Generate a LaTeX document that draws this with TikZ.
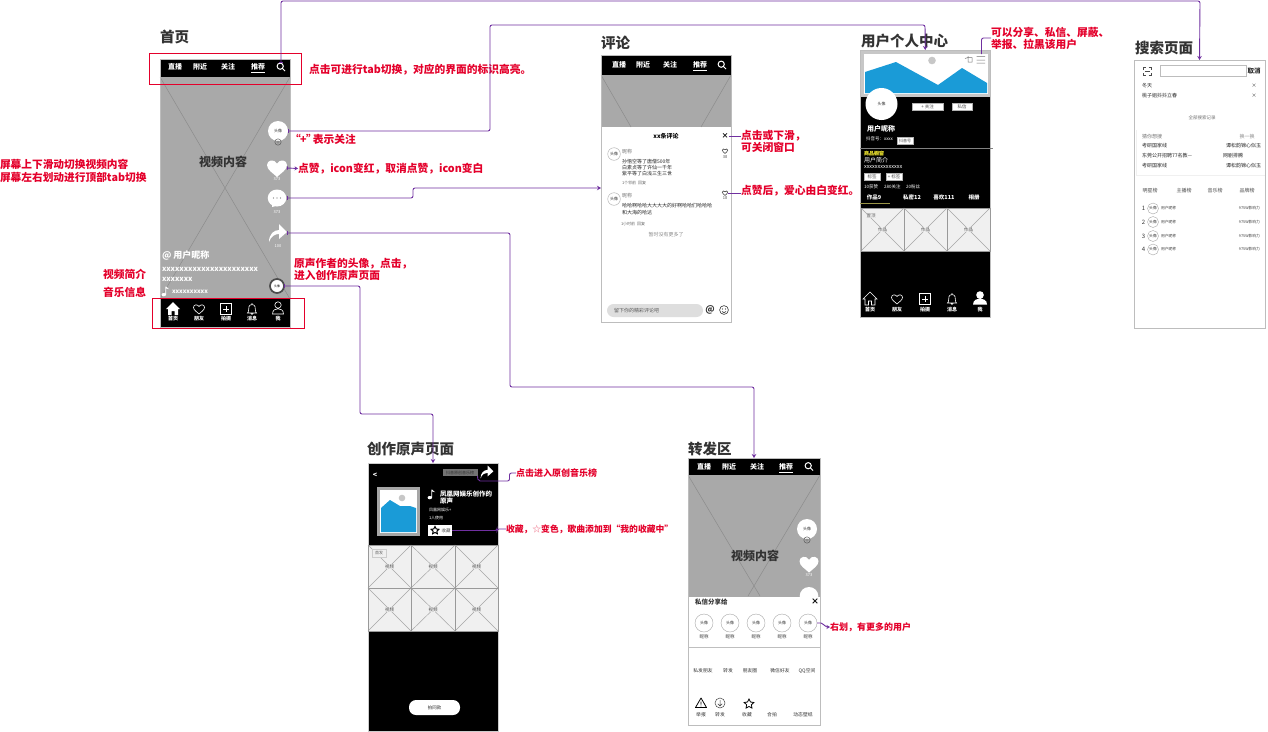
\documentclass[tikz,border=0pt]{standalone}
\usepackage{fontspec}
\setmainfont{Noto Sans CJK SC}
\usetikzlibrary{arrows.meta,shapes.geometric}
\definecolor{redlab}{HTML}{E4002B}
\definecolor{purp}{HTML}{7030A0}
\definecolor{vgray}{HTML}{A9A9A9}
\definecolor{cellg}{HTML}{F0F0F0}
\definecolor{title}{HTML}{333333}
\definecolor{blue1}{HTML}{1A9BD7}
\definecolor{frameg}{HTML}{BDBDBD}
\newcounter{nn}
\newcommand\lbl[4]{\stepcounter{nn}\node[#1] (t\thenn) at (#2,#3) {#4};}
\newcommand\wire[6]{% x1 y1 x2 y2 fill cross
  \fill[#5] (#1,#2) rectangle (#3,#4);
  \draw[#6,line width=.5pt] (#1,#2) -- (#3,#4) (#3,#2) -- (#1,#4);
}
\newcommand\cellbox[5]{% x y w h label
  \fill[cellg] (#1,#2) rectangle ++(#3,#4);
  \draw[black!35,line width=.5pt] (#1,#2) -- ++(#3,#4) (#1+#3,#2) -- ++(-#3,#4);
  \draw[black!40,line width=.7pt] (#1,#2) rectangle ++(#3,#4);
  \lbl{fs=4.5,text=black!70,fill=cellg}{#1+#3/2}{#2+#4/2}{#5}
}
\newcommand\heartpath{(0,.9) .. controls (-.4,.5) and (-1,.2) .. (-1,-.3) .. controls (-1,-.8) and (-.3,-.95) .. (0,-.45) .. controls (.3,-.95) and (1,-.8) .. (1,-.3) .. controls (1,.2) and (.4,.5) .. (0,.9) -- cycle}
\newcommand\heartfill[3]{\fill[white,shift={(#1,#2)},scale=#3] \heartpath;}
\newcommand\heartline[4]{\draw[#4,line width=.6pt,shift={(#1,#2)},scale=#3] \heartpath;}
\newcommand\shareicon[3]{\fill[white,shift={(#1,#2)},scale=#3] (-9,9) .. controls (-9,1) and (-4,-3) .. (1,-3) -- (1,-9) -- (9,-1) -- (1,6) -- (1,1) .. controls (-3,1) and (-7,3) .. (-9,9) -- cycle;}
\newcommand\searchicon[3]{\draw[#3,line width=1pt,shift={(#1,#2)}] (-.8,-.8) circle (3.1) (1.4,1.4) -- (4,4);}
\newcommand\homefill[2]{\fill[white,shift={(#1,#2)}] (0,-7) -- (7,0) -- (5,0) -- (5,6) -- (1.5,6) -- (1.5,2) -- (-1.5,2) -- (-1.5,6) -- (-5,6) -- (-5,0) -- (-7,0) -- cycle;}
\newcommand\homeout[2]{\draw[white,line width=.6pt,shift={(#1,#2)}] (0,-7) -- (7,0) -- (5,0) -- (5,6) -- (1.5,6) -- (1.5,2) -- (-1.5,2) -- (-1.5,6) -- (-5,6) -- (-5,0) -- (-7,0) -- cycle;}
\newcommand\plusbox[2]{\draw[white,line width=.6pt,shift={(#1,#2)}] (-5.5,-5.5) rectangle (5.5,5.5) (-3,0) -- (3,0) (0,-3) -- (0,3);}
\newcommand\bell[2]{\draw[white,line width=.6pt,shift={(#1,#2)}] (-4.5,4) .. controls (-3,3) and (-3.5,-1) .. (-3,-2.5) .. controls (-2.5,-5) and (2.5,-5) .. (3,-2.5) .. controls (3.5,-1) and (3,3) .. (4.5,4) -- cycle (0,-4.5) -- (0,-6) (-1.3,4) .. controls (-1,6) and (1,6) .. (1.3,4);}
\newcommand\personout[2]{\draw[white,line width=.6pt,shift={(#1,#2)}] (0,-3) circle (3.2) (-5.5,6) .. controls (-5.5,1.5) and (-2,.8) .. (0,.8) .. controls (2,.8) and (5.5,1.5) .. (5.5,6) -- cycle;}
\newcommand\personfill[2]{\fill[white,shift={(#1,#2)}] (0,-3) circle (3.8) (-7,6.5) .. controls (-7,1.5) and (-2.5,.8) .. (0,.8) .. controls (2.5,.8) and (7,1.5) .. (7,6.5) -- cycle;}
\newcommand\noteicon[3]{\fill[white,shift={(#1,#2)},scale=#3] (-2,3.3) ellipse (2 and 1.5) (-.6,3.3) -- (-.6,-4) -- (.2,-4) .. controls (.6,-2.5) and (2.5,-2.5) .. (3,-1.6) .. controls (2,-2) and (1,-2) .. (.2,-2.3) -- (.2,3.3) -- cycle;}
\newcommand\avatar[5]{% name x y r font
  \node[circle,draw=gray!70,fill=white,line width=.4pt,minimum size=2*#4 pt,text=black!80,font=\fontsize{#5}{#5}\selectfont] (#1) at (#2,#3) {头像};
}
\newcommand\wavatar[4]{%
  \node[circle,fill=white,minimum size=2*#4 pt,font=\fontsize{4}{4}\selectfont,text=black!80] (#1) at (#2,#3) {头像};
}
\newcommand\plusc[2]{\draw[black!70,line width=.4pt,shift={(#1,#2)}] (0,0) circle (3.2) (-2.2,0) -- (2.2,0) (0,-2.2) -- (0,2.2);}
\newcommand\tabs[6]{% ybase x1 x2 x3 x4 search
  \lbl{bfs=7,text=white}{#2}{#1}{直播}
  \lbl{bfs=7,text=white}{#3}{#1}{附近}
  \lbl{bfs=7,text=white}{#4}{#1}{关注}
  \lbl{bfs=7,text=white}{#5}{#1}{推荐}
  \draw[white,line width=.7pt] (#5-7,#1+5.5) -- (#5+7,#1+5.5);
  \searchicon{#6}{#1}{white}
}
\tikzset{
  every node/.style={inner sep=0pt,outer sep=0pt},
  fs/.style={font=\fontsize{#1}{#1}\selectfont},
  bfs/.style={font=\fontsize{#1}{#1}\selectfont\bfseries},
  lft/.style={anchor=west},
  rgt/.style={anchor=east},
  pagetitle/.style={anchor=west,text=title,font=\fontsize{14.5}{15}\selectfont\bfseries},
  redtext/.style={anchor=west,text=redlab,align=left,font=\fontsize{10.75}{12}\selectfont\bfseries},
  redsmall/.style={anchor=west,text=redlab,align=left,font=\fontsize{9}{11}\selectfont\bfseries},
  redbox/.style={draw=redlab,line width=1pt,anchor=north west},
  phone/.style={draw=frameg,line width=.8pt,anchor=north west},
  conn/.style={draw=purp,line width=.9pt,rounded corners=2pt},
  arr/.style={conn,{Bar[width=3.5pt,line width=.8pt]}-{Stealth[length=4pt,width=4.5pt]}},
  tagbox/.style={fill=white,draw=gray!60,line width=.3pt,fs=4.5,text=black!70,minimum height=7pt},
  vt/.style={font=\fontsize{12}{12}\selectfont\bfseries,text=title},
  s5/.style={fs=5,text=black!85,anchor=west},
  g5/.style={fs=5,text=black!55,anchor=west},
}
\begin{document}
\begin{tikzpicture}[x=1pt,y=-1pt]
\useasboundingbox (0,0) rectangle (1268,731);
\fill[white] (0,0) rectangle (1268,731);

% ============ HOME
\lbl{pagetitle}{160}{37}{首页}
\wire{160}{77}{290}{299}{vgray}{black!45}
\fill[black] (160,59) rectangle (290,77);
\fill[black] (160,299) rectangle (290,326.5);
\node[phone,minimum width=130pt,minimum height=268pt] (home) at (160,59) {};
\tabs{67}{175}{200}{228}{258}{281}
\coordinate (searchHome) at (281,63);
\lbl{vt}{223}{162}{视频内容}
\wavatar{avHome}{278}{131}{10}
\plusc{278}{142}
\heartfill{277}{168}{10}
\coordinate (heartHome) at (287,168);
\lbl{fs=4,text=white}{277}{179}{373}
\fill[white] (277,198) ellipse (9.3 and 8.5) (272,204) -- (276,206) -- (272,207) -- cycle;
\fill[black!55] (273.5,198) circle (.6) (277,198) circle (.6) (280.5,198) circle (.6);
\coordinate (bubbleHome) at (286.5,198);
\lbl{fs=4,text=white}{277}{212}{373}
\shareicon{278}{233}{1}
\coordinate (shareHome) at (287,233);
\lbl{fs=4,text=white}{278}{246.5}{100}
\node[circle,draw=black!70,fill=white,line width=1.7pt,minimum size=14pt,fs=3,text=black] (disc) at (277,286) {头像};
\lbl{lft,bfs=9,text=white}{162}{255.5}{@ 用户昵称}
\lbl{lft,bfs=7.3,text=white}{162}{269.5}{xxxxxxxxxxxxxxxxxxxxxx}
\lbl{lft,bfs=7.3,text=white}{162}{279.5}{xxxxxxx}
\noteicon{166}{291}{1.1}
\lbl{lft,bfs=6,text=white}{172}{292}{xxxxxxxxxx}
\homefill{173}{309}
\heartline{199}{309}{5.5}{white}
\plusbox{226}{309}
\bell{252}{309}
\personout{278}{308}
\lbl{bfs=5,text=white}{173}{319}{首页}
\lbl{bfs=5,text=white}{199}{319}{朋友}
\lbl{bfs=5,text=white}{226}{319}{拍摄}
\lbl{bfs=5,text=white}{252}{319}{消息}
\lbl{bfs=5,text=white}{278}{319}{我}
\node[redbox,minimum width=152pt,minimum height=31pt] (tabBox) at (149,53) {};
\node[redbox,minimum width=152pt,minimum height=30pt] (navBox) at (152,298) {};

% red notes, left of and beside home
\node[redtext,font=\fontsize{10.7}{13}\selectfont\bfseries] (noteSwipe) at (0,170.5) {屏幕上下滑动切换视频内容\\屏幕左右划动进行顶部tab切换};
\node[redtext,anchor=east] (noteIntro) at (146,274) {视频简介};
\node[redtext,anchor=east] (noteMusic) at (146,292) {音乐信息};
\node[redtext] (noteTab) at (309,70) {点击可进行tab切换，对应的界面的标识高亮。};
\node[redtext] (noteFollow) at (294,139.5) {\hspace{-4pt}“\hspace{-3pt} + \hspace{-3pt}”\hspace{-4pt}表示关注};
\node[redtext] (noteLike) at (298,168.5) {点赞，icon变红，取消点赞，icon变白};
\node[redtext] (noteOrig) at (294,269.5) {原声作者的头像，点击，\\进入创作原声页面};

% ============ COMMENT
\lbl{pagetitle}{601}{43}{评论}
\fill[vgray] (601,75) rectangle (731,127);
\draw[black!45,line width=.5pt] (601,75) -- (631,127) (731,75) -- (701,127);
\fill[black] (601,55) rectangle (731,75);
\node[phone,minimum width=130pt,minimum height=267pt] (comment) at (601,55) {};
\tabs{65}{619}{643}{670}{700}{722}
\lbl{bfs=6,text=black}{666}{136}{xx条评论}
\node[bfs=7,text=black] (closeC) at (725,136) {×};
\avatar{avC1}{614}{154}{6.3}{4}
\lbl{g5}{622}{152}{昵称}
\lbl{s5}{622}{162}{孙悟空等了唐僧500年}
\lbl{s5}{622}{168}{白素贞等了许仙一千年}
\lbl{s5}{622}{174}{紫平等了白浅三生三世}
\lbl{fs=4,text=black!60,anchor=west}{622}{183}{1个邻前\ \ 回复}
\heartline{725}{151}{2.7}{black!70}
\lbl{fs=4,text=black!70}{725}{157}{38}
\avatar{avC2}{614}{199}{6.3}{4}
\lbl{g5}{622}{196}{昵称}
\lbl{s5}{622}{206}{哈哈啊哈哈大大大大的好啊哈哈们哈哈哈}
\lbl{s5}{622}{212.5}{和大海的哈达}
\lbl{fs=4,text=black!60,anchor=west}{621}{224}{1小时前\ \ 回复}
\heartline{725}{193}{2.7}{black!70}
\coordinate (heartC2) at (727.5,193);
\lbl{fs=4,text=black!70}{725}{198.5}{18}
\lbl{fs=5,text=black!45}{666}{235}{暂时没有更多了}
\node[fill=black!13,rounded corners=6.5pt,minimum width=96pt,minimum height=13pt,anchor=north west] (inputC) at (607,304) {};
\lbl{fs=5,text=black!65,anchor=west}{614}{310.5}{留下你的精彩评论吧}
\lbl{bfs=9,text=black!80}{710}{310}{@}
\draw[black!80,line width=.6pt] (724,310) circle (4.4) (722.5,309) circle (.3) (725.5,309) circle (.3) (722,311.5) .. controls (723,313) and (725,313) .. (726,311.5);
\node[redtext] (noteClose) at (741,141) {点击或下滑，\\可关闭窗口};
\node[redtext] (noteHeart) at (741,191) {点赞后，爱心由白变红。};

% ============ USER CENTRE
\lbl{pagetitle}{861}{41}{用户个人中心}
\fill[black] (860,97) rectangle (990.5,317);
\fill[black!22] (860,50) rectangle (990.5,97);
\fill[white] (864,54) rectangle (988,94);
\fill[blue1] (865,72) -- (896,62) -- (938,85) -- (962,68) -- (987,83) -- (987,93) -- (865,93) -- cycle;
\fill[black!22] (932,60.5) circle (3.8);
\draw[black!55,line width=.5pt] (968,56) -- (968,62) -- (972,62) -- (972,57.5) -- (968,57.5) -- (965,58.5) (976.5,56.5) -- (985,56.5) (976.5,60) -- (985,60) (976.5,63) -- (985,63);
\coordinate (menuU) at (981.5,54);
\node[phone,minimum width=130.5pt,minimum height=267pt] (user) at (860,50) {};
\wavatar{avU}{881.5}{104}{16}
\node[tagbox,minimum width=31pt,anchor=north west] (followU) at (912,103.5) {+ 关注};
\node[tagbox,minimum width=20pt,anchor=north west] (msgU) at (952,103.5) {私信};
\lbl{lft,bfs=7,text=white}{867}{129}{用户昵称}
\lbl{lft,fs=4.5,text=white}{866}{139}{抖音号：xxxx}
\node[tagbox,fs=4,minimum width=16pt,anchor=north west] (idU) at (897,137) {抖音号};
\draw[black!50,line width=.5pt] (860,148.5) -- (993,148.5);
\lbl{lft,bfs=5,text=yellow!80!white}{864}{153.5}{商品橱窗}
\lbl{lft,fs=6,text=white}{864}{160.5}{用户简介}
\lbl{lft,fs=5.5,text=white}{864}{167.5}{xxxxxxxxxxxxxx}
\node[tagbox,minimum width=16pt,anchor=north west] (tag1) at (864,173) {标签};
\node[tagbox,minimum width=16pt,anchor=north west] (tag2) at (886,173) {+ 标签};
\lbl{lft,fs=4.5,text=white}{864}{187}{10获赞}
\lbl{lft,fs=4.5,text=white}{884}{187}{280关注}
\lbl{lft,fs=4.5,text=white}{906}{187}{20粉丝}
\lbl{bfs=5.5,text=white}{874}{197}{作品9}
\lbl{bfs=5.5,text=white}{912}{197}{私密12}
\lbl{bfs=5.5,text=white}{944}{197}{喜欢111}
\lbl{bfs=5.5,text=white}{974}{197}{相册}
\draw[yellow!55!black,line width=.8pt] (860,203) -- (890,203);
\cellbox{861}{208}{43}{43}{作品}
\cellbox{904}{208}{43}{43}{作品}
\cellbox{947}{208}{43}{43}{作品}
\lbl{fs=4.5,text=black!60,fill=cellg}{871}{216}{置顶}
\homeout{870}{299}
\heartline{897}{299}{5.5}{white}
\plusbox{925}{299}
\bell{952}{299}
\personfill{980}{298}
\lbl{bfs=5,text=white}{870}{310}{首页}
\lbl{bfs=5,text=white}{897}{310}{朋友}
\lbl{bfs=5,text=white}{925}{310}{拍摄}
\lbl{bfs=5,text=white}{952}{310}{消息}
\lbl{bfs=5,text=white}{980}{310}{我}
\node[redtext] (noteShare) at (991,38) {可以分享、私信、屏蔽、\\举报、拉黑该用户};

% ============ SEARCH
\lbl{pagetitle}{1135}{48}{搜索页面}
\node[phone,minimum width=131pt,minimum height=268pt] (searchPage) at (1134,60) {};
\draw[black!70,line width=.6pt] (1143,70) -- (1143,67.5) -- (1145.5,67.5) (1148.5,67.5) -- (1151,67.5) -- (1151,70) (1143,73) -- (1143,75.5) -- (1145.5,75.5) (1148.5,75.5) -- (1151,75.5) -- (1151,73) (1144.5,71.5) -- (1149.5,71.5);
\node[draw=frameg,line width=.6pt,minimum width=86pt,minimum height=11.5pt,anchor=north west] (inputS) at (1160,65) {};
\lbl{bfs=6.5,text=black!85}{1254}{71}{取消}
\lbl{s5}{1142}{86}{冬天}
\lbl{s5}{1142}{95.5}{桃子姐抖抖立春}
\lbl{fs=5,text=black!80}{1254}{86}{×}
\lbl{fs=5,text=black!80}{1254}{95.5}{×}
\lbl{fs=4.5,text=black!55}{1202}{117.5}{全部搜索记录}
\draw[black!6,line width=.5pt] (1136,130) -- (1136,175) -- (1265,175);
\lbl{g5}{1142}{137}{猜你想搜}
\lbl{fs=5,text=black!45}{1247}{137}{换一换}
\lbl{s5}{1142}{146}{考研国家线}
\lbl{s5}{1142}{156}{东莞公开招聘77名教---}
\lbl{s5}{1142}{165.5}{考研国家线}
\lbl{fs=5,text=black!85,anchor=east}{1261}{146}{谭松韵锦心似玉}
\lbl{fs=5,text=black!85,anchor=west}{1223}{156}{网剧排腾}
\lbl{fs=5,text=black!85,anchor=east}{1261}{165.5}{谭松韵锦心似玉}
\lbl{fs=5,text=black!70}{1150}{190.5}{明星榜}
\lbl{fs=5,text=black!70}{1184}{190.5}{主播榜}
\lbl{fs=5,text=black!70}{1215}{190.5}{音乐榜}
\lbl{fs=5,text=black!70}{1247}{190.5}{品牌榜}
\foreach \ya/\na/\nb in {208.5/1/a,222/2/b,236/3/c,249.5/4/d}{
  \avatar{avS\nb}{1153}{\ya}{5.5}{3.8}
  \lbl{fs=6,text=black!80}{1143.5}{\ya}{\na}
  \lbl{fs=3.8,text=black!75,anchor=west}{1161}{\ya}{用户昵称}
  \lbl{fs=3.8,text=black!75,anchor=east}{1260}{\ya}{975W影响力}
}

% ============ ORIGINAL SOUND
\lbl{pagetitle}{367}{449}{创作原声页面}
\fill[black] (368,463) rectangle (498,731);
\node[draw=black!20,line width=.6pt,minimum width=130pt,minimum height=268pt,anchor=north west] (orig) at (368,463) {};
\lbl{bfs=7,text=white}{375}{475}{<}
\node[fill=black!55,minimum width=35pt,minimum height=7pt,fs=4,text=black!80,anchor=north west] (hotList) at (442.5,469) {抖音原创音乐榜};
\shareicon{487}{472}{.72}
\fill[black!35] (377,487) rectangle (420,536);
\fill[white] (380,490) rectangle (417,533);
\fill[blue1] (381,508) -- (390,500) -- (400,506) -- (410,506) -- (416,508) -- (416,532) -- (381,532) -- cycle;
\fill[black!22] (402,498) circle (3.3);
\noteicon{432}{494}{1.1}
\lbl{lft,bfs=6.5,text=white}{440}{494}{凤凰网娱乐创作的}
\lbl{lft,bfs=6.5,text=white}{440}{501.5}{原声}
\lbl{lft,fs=4,text=white}{429}{510}{凤凰网娱乐+}
\lbl{lft,fs=4,text=white}{429}{517.5}{1人使用}
\node[fill=white,minimum width=24pt,minimum height=11pt,anchor=north west] (favBox) at (428,525) {};
\node[star,star points=5,star point ratio=2,draw=black,line width=1pt,minimum size=8pt,fill=white] (starO) at (435,530.5) {};
\lbl{fs=4.5,text=black!70}{446}{530.5}{收藏}
\cellbox{368}{545}{43}{43}{视频}
\cellbox{411}{545}{44}{43}{视频}
\cellbox{455}{545}{43}{43}{视频}
\cellbox{368}{588}{43}{43}{视频}
\cellbox{411}{588}{44}{43}{视频}
\cellbox{455}{588}{43}{43}{视频}
\node[draw=black!20,fill=cellg,line width=.4pt,minimum width=14pt,minimum height=8pt,fs=4,text=black!60] (firstTag) at (379,553) {首发};
\node[fill=white,rounded corners=7pt,minimum width=51pt,minimum height=15pt,fs=4.5,text=black!80,anchor=north west] (shootSame) at (409,700) {拍同款};
\node[redsmall] (noteChart) at (516,473) {点击进入原创音乐榜};
\node[redsmall,font=\fontsize{8.8}{10}\selectfont\bfseries] (noteFav) at (506,529) {收藏，{\color{redlab!50}☆}变色，歌曲添加到“我的收藏中”};

% ============ REPOST
\lbl{pagetitle}{688}{449}{转发区}
\fill[vgray] (688,475) rectangle (820,597);
\draw[black!45,line width=.5pt] (688,475) -- (760,596) (820,475) -- (748,596);
\fill[black] (688,458) rectangle (820,475);
\node[phone,minimum width=132pt,minimum height=267pt] (repost) at (688,458) {};
\tabs{466.5}{704}{729}{757}{786}{809}
\lbl{vt}{755}{556}{视频内容}
\wavatar{avR}{807}{529}{10}
\plusc{807}{540}
\heartfill{809}{564}{9.5}
\lbl{fs=4,text=white}{809}{575}{373}
\fill[white] (809,596) ellipse (9.3 and 9);
\fill[white] (689,596.5) rectangle (819.6,724.6);
\lbl{bfs=6.5,text=black!80,anchor=west}{695}{602}{私信分享给}
\node[bfs=8,text=black] (closeR) at (815,602) {×};
\foreach \xa/\nb in {704/a,730/b,756/c,782/d,808/e}{
  \avatar{avR\nb}{\xa}{623}{9}{4}
  \lbl{fs=4.5,text=black!80}{\xa}{637}{昵称}
}
\draw[black!25,line width=.6pt] (688,647) -- (820,647);
\lbl{fs=4.8,text=black!80}{703}{671}{私发朋友}
\lbl{fs=4.8,text=black!80}{728}{671}{转发}
\lbl{fs=4.8,text=black!80}{750}{671}{朋友圈}
\lbl{fs=4.8,text=black!80}{780}{671}{微信好友}
\lbl{fs=4.8,text=black!80}{807}{671}{QQ空间}
\draw[black,line width=.8pt,line join=round] (701,698) -- (706.5,707.5) -- (695.5,707.5) -- cycle (701,701.5) -- (701,704.5) (701,705.7) -- (701,706.3);
\draw[black!75,line width=.5pt] (720,703) circle (5) (720,700) -- (720,706) (717.8,703.8) -- (720,706) -- (722.2,703.8);
\node[star,star points=5,star point ratio=2,draw=black,line width=.8pt,minimum size=10pt] (starR) at (749,704) {};
\lbl{fs=4.8,text=black!80}{701}{715}{举报}
\lbl{fs=4.8,text=black!80}{720}{715}{转发}
\lbl{fs=4.8,text=black!80}{747}{715}{收藏}
\lbl{fs=4.8,text=black!80}{772}{715}{合拍}
\lbl{fs=4.8,text=black!80}{803}{715}{动态壁纸}
\node[redsmall] (noteMore) at (830,627) {右划，有更多的用户};

% ============ CONNECTORS
\draw[arr] (searchHome) -- (281,1) -- (1200,1) -- (searchPage.north);
\draw[arr] (avHome.east) -- (490,131) -- (490,25) -- (925,25) -- (user.north);
\draw[arr,{Bar[width=3.5pt,line width=.8pt]}-{Stealth[length=3.5pt,width=4pt]}] (heartHome) -- (noteLike.west);
\draw[arr] (bubbleHome) -- (413,198) -- (413,188) -- (comment.west |- 601,188);
\draw[arr] (shareHome) -- (510,233) -- (510,387) -- (754,387) -- (repost.north);
\draw[arr] (disc.east) -- (360,286) -- (360,414) -- (433,414) -- (orig.north);
\draw[conn] (closeC.east) -- (noteClose.west |- closeC.east);
\draw[conn] (heartC2) -- (noteHeart.west |- heartC2);
\draw[conn] (menuU) -- (981.5,38) -- (noteShare.west);
\draw[conn] (hotList.south east) -- (478,481) -- (509.5,481) -- (509.5,473) -- (noteChart.west);
\draw[conn] (favBox.east) -- (497,530.5) -- (497,529) -- (noteFav.west);
\draw[conn,-{Stealth[length=3.5pt,width=4pt]}] (avRe.east) -- (823,623) -- (825,627) -- (noteMore.west);
\end{tikzpicture}
\end{document}
